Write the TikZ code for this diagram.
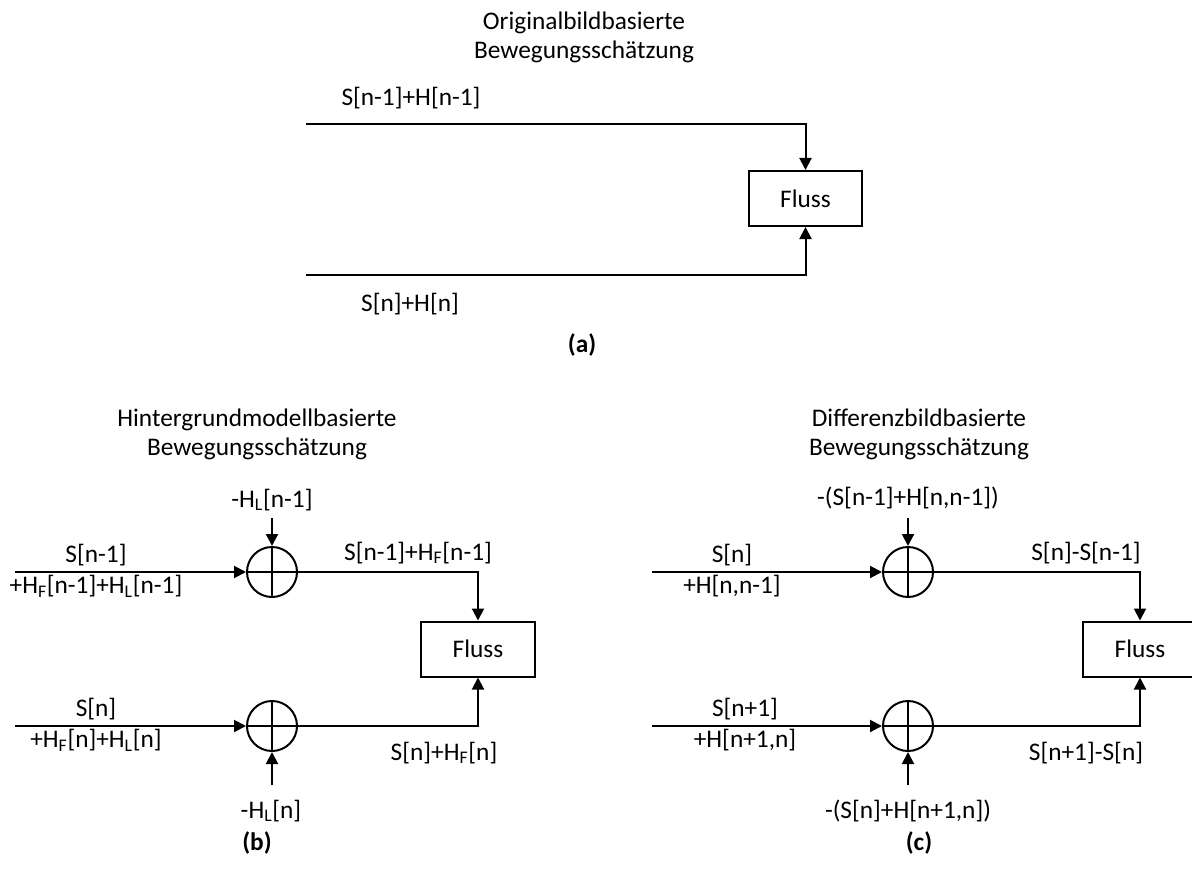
\documentclass[tikz,border=0pt]{standalone}
\usepackage{fontspec}
\setmainfont{Carlito}
\usetikzlibrary{arrows.meta}
\newcommand\lblfont{\fontsize{19}{23.25}\selectfont}
\newcommand\ttlfont{\fontsize{19}{21.75}\selectfont}
\begin{document}
\begin{tikzpicture}[x=0.75pt,y=-0.75pt,
  wire/.style={line width=1.5pt},
  arr/.style={wire,-{Triangle[length=9pt,width=9pt]}},
  lbl/.style={font=\lblfont,inner sep=0pt,anchor=base},
  lbltwo/.style={font=\lblfont,inner sep=0pt,align=center},
  ttl/.style={font=\ttlfont,inner sep=0pt,align=center},
  sublbl/.style={font=\lblfont\bfseries,inner sep=0pt,anchor=base},
  flussbox/.style={draw,line width=1.5pt,minimum width=85pt,minimum height=41.25pt,inner sep=0pt,font=\lblfont},
  summer/.style={draw,circle,line width=1.5pt,minimum size=37.5pt,inner sep=0pt},
]
\useasboundingbox (0,0) rectangle (1192,870);

% ---------- (a) original frames ----------
\node[ttl] (titleA) at (584,37) {Originalbildbasierte\\Bewegungsschätzung};
\node[flussbox] (fa) at (805.5,198.5) {Fluss};
\coordinate (aIn1) at (306,124);
\coordinate (aIn2) at (306,275);
\draw[arr] (aIn1) -| (fa.north);
\draw[arr] (aIn2) -| (fa.south);
\node[lbl] (lblA1) at (411,106) {S[n-1]+H[n-1]};
\node[lbl] (lblA2) at (410,311) {S[n]+H[n]};
\node[sublbl] (capA) at (582,352) {(a)};

% ---------- (b) background model ----------
\node[ttl] (titleB) at (257,434) {Hintergrundmodellbasierte\\Bewegungsschätzung};
\node[summer] (sb1) at (272,572) {};
\node[summer] (sb2) at (272,726) {};
\node[flussbox] (fb) at (478,649) {Fluss};
\coordinate (bIn1) at (15,572);
\coordinate (bIn2) at (15,726);
\coordinate (bSub1) at (272,518);
\coordinate (bSub2) at (272,785);
\draw[arr] (bIn1) -- (sb1.west);
\draw[arr] (bIn2) -- (sb2.west);
\draw[arr] (bSub1) -- (sb1.north);
\draw[arr] (bSub2) -- (sb2.south);
\draw[arr] (sb1.east) -| (fb.north);
\draw[arr] (sb2.east) -| (fb.south);
\node[lbltwo] (lblB1) at (96,571) {S[n-1]\\+H\textsubscript{F}[n-1]+H\textsubscript{L}[n-1]};
\node[lbltwo] (lblB2) at (96,725) {S[n]\\+H\textsubscript{F}[n]+H\textsubscript{L}[n]};
\node[lbl] (lblB3) at (272,507) {-H\textsubscript{L}[n-1]};
\node[lbl] (lblB4) at (271,818) {-H\textsubscript{L}[n]};
\node[lbl] (lblB5) at (418,560) {S[n-1]+H\textsubscript{F}[n-1]};
\node[lbl] (lblB6) at (444,760) {S[n]+H\textsubscript{F}[n]};
\node[sublbl] (capB) at (257,850) {(b)};

% ---------- (c) difference frames ----------
\node[ttl] (titleC) at (919,434) {Differenzbildbasierte\\Bewegungsschätzung};
\node[summer] (sc1) at (908,572) {};
\node[summer] (sc2) at (908,726) {};
\node[flussbox] (fc) at (1140,649) {Fluss};
\coordinate (cIn1) at (652,572);
\coordinate (cIn2) at (652,726);
\coordinate (cSub1) at (908,518);
\coordinate (cSub2) at (908,785);
\draw[arr] (cIn1) -- (sc1.west);
\draw[arr] (cIn2) -- (sc2.west);
\draw[arr] (cSub1) -- (sc1.north);
\draw[arr] (cSub2) -- (sc2.south);
\draw[arr] (sc1.east) -| (fc.north);
\draw[arr] (sc2.east) -| (fc.south);
\node[lbltwo] (lblC1) at (732,571) {S[n]\\+H[n,n-1]};
\node[lbltwo] (lblC2) at (745,725) {S[n+1]\\+H[n+1,n]};
\node[lbl] (lblC3) at (908,505) {-(S[n-1]+H[n,n-1])};
\node[lbl] (lblC4) at (908,818) {-(S[n]+H[n+1,n])};
\node[lbl] (lblC5) at (1086,560) {S[n]-S[n-1]};
\node[lbl] (lblC6) at (1086,760) {S[n+1]-S[n]};
\node[sublbl] (capC) at (919,850) {(c)};

% crosses inside the summing junctions
\foreach \s in {sb1,sb2,sc1,sc2}
  \draw[wire] (\s.north) -- (\s.south) (\s.west) -- (\s.east);
\end{tikzpicture}
\end{document}
